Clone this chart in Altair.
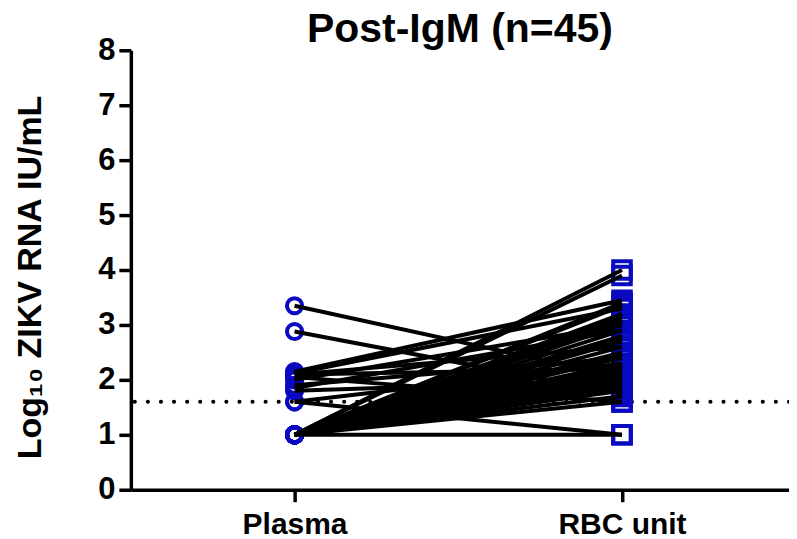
import altair as alt
import pandas as pd

groups = ["Plasma", "RBC unit"]
plasma = [3.35, 2.88, 2.15, 2.12, 2.10, 2.10, 2.05, 2.00, 1.90, 1.85, 1.80, 1.60, 1.60] + [1.0] * 32
rbc = [2.05, 1.75, 3.45, 3.30, 2.60, 2.20, 1.60, 3.00, 2.40, 2.90, 2.00, 1.00, 2.30,
       4.00, 3.90, 3.40, 3.35, 3.20, 3.15, 3.10, 3.05, 3.00, 2.90, 2.80, 2.75, 2.70, 2.60,
       2.50, 2.45, 2.40, 2.30, 2.25, 2.20, 2.15, 2.10, 2.05, 2.00, 2.00, 1.95, 1.90, 1.85,
       1.80, 1.70, 1.60, 1.00]
lod = 1.6

rows = []
for i, (p, r) in enumerate(zip(plasma, rbc)):
    rows.append({"id": i, "pos": 0, "group": groups[0], "value": p})
    rows.append({"id": i, "pos": 1, "group": groups[1], "value": r})
df = pd.DataFrame(rows)

FONT = "Liberation Sans"
BLUE = "#0A0AC0"

x = alt.X("pos:Q", scale=alt.Scale(domain=[-0.5, 1.51], nice=False, zero=False),
          axis=alt.Axis(values=[0, 1], labelExpr="datum.value == 0 ? 'Plasma' : 'RBC unit'",
                        title=None, labelFontSize=30, labelPadding=8))
y = alt.Y("value:Q", scale=alt.Scale(domain=[0, 8], nice=False),
          axis=alt.Axis(values=list(range(9)), title="Log₁₀ ZIKV RNA IU/mL",
                        titleFontSize=34, labelFontSize=31, labelPadding=4,
                        titleX=-83, titleY=227, titleAngle=270, titleBaseline="bottom",
                        titleAlign="center"))

base = alt.Chart(df)
pts_p = base.transform_filter("datum.pos == 0").mark_point(
    shape="circle", filled=False, color=BLUE, size=230, strokeWidth=4, opacity=1
).encode(x=x, y=y)
pts_r = base.transform_filter("datum.pos == 1").mark_point(
    shape="square", filled=False, color=BLUE, size=310, strokeWidth=4, opacity=1
).encode(x=x, y=y)
lines = base.mark_line(color="black", strokeWidth=4).encode(x=x, y=y, detail="id:N")
rule = alt.Chart(pd.DataFrame({"v": [lod]})).mark_rule(
    color="black", strokeWidth=4, strokeDash=[0.1, 13], strokeCap="round"
).encode(y="v:Q")

chart = alt.layer(rule, pts_p, pts_r, lines).properties(
    width=659, height=440,
    autosize=alt.AutoSizeParams(type="none"),
    padding={"left": 123, "top": 42, "right": 0, "bottom": 60},
    title=alt.TitleParams("Post-IgM (n=45)", fontSize=41, font=FONT, fontWeight="bold",
                          anchor="middle", offset=-17),
).configure_view(stroke=None).configure_axis(
    grid=False, domainColor="black", domainWidth=3.5, tickColor="black", tickWidth=3.5,
    tickSize=12, labelFont=FONT, titleFont=FONT, labelFontWeight="bold",
    titleFontWeight="bold", labelColor="black", titleColor="black"
)

chart.save("out.html", embed_options={"renderer": "svg", "actions": False})
